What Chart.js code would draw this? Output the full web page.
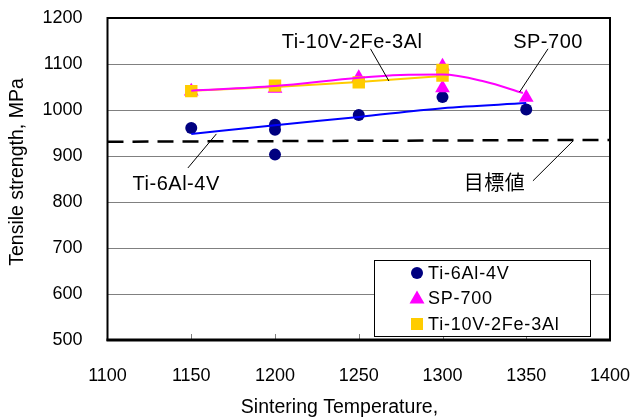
<!DOCTYPE html>
<html>
<head>
<meta charset="utf-8">
<script src="https://cdn.jsdelivr.net/npm/chart.js@4.4.1/dist/chart.umd.min.js"></script>
<style>
  body { margin: 0; background: #fff; }
  #wrap { width: 633px; height: 420px; }
</style>
</head>
<body>
<div id="wrap"><canvas id="tensileChart"></canvas></div>
<script>
// measured tensile strength (MPa) vs sintering temperature (°C)
const ti64Temp = [1150, 1200, 1200, 1200, 1250, 1300, 1350];
const ti64Strength = [961, 968, 957, 903, 989, 1028, 1001];

const sp700Temp = [1150, 1200, 1250, 1300, 1300, 1350];
const sp700Strength = [1041, 1047, 1070, 1095, 1048, 1027];

const ti1023Temp = [1150, 1200, 1250, 1300, 1300];
const ti1023Strength = [1041, 1053, 1060, 1087, 1075];

// trend curves
const ti64FitTemp = [1150, 1200, 1250, 1300, 1350];
const ti64Fit = [948, 967, 985, 1004, 1015];

const sp700FitTemp = [1150, 1200, 1250, 1275, 1300, 1325, 1348];
const sp700Fit = [1042, 1052, 1070, 1076, 1077, 1062, 1037];

const ti1023FitTemp = [1150, 1200, 1250, 1300];
const ti1023Fit = [1042, 1050, 1061, 1074];

// target line (目標値)
const targetTemp = [1100, 1400];
const targetStrength = [931, 935];

const xTicks = [1100, 1150, 1200, 1250, 1300, 1350, 1400];
const yTicks = [500, 600, 700, 800, 900, 1000, 1100, 1200];

const xTitle = 'Sintering Temperature,';
const yTitle = 'Tensile strength, MPa';

const FONT = "'Liberation Sans', Arial, 'Noto Sans CJK JP', sans-serif";
Chart.defaults.font.family = FONT;
Chart.defaults.color = '#000';

function pts(xs, ys) {
    return xs.map((x, i) => ({ x: x, y: ys[i] }));
}

// callouts, positions in data units
const notes = [
    { text: 'Ti-10V-2Fe-3Al', at: [1246, 1147], from: [1257, 1133], to: [1268, 1063] },
    { text: 'SP-700', at: [1363, 1147], from: [1363, 1133], to: [1346, 1039] },
    { text: 'Ti-6Al-4V', at: [1141, 837], from: [1148, 874], to: [1165, 948] },
    { text: '目標値', at: [1331, 837], from: [1354, 846], to: [1378, 933] },
];

const legendItems = [
    { label: 'Ti-6Al-4V', shape: 'circle', color: '#000080' },
    { label: 'SP-700', shape: 'triangle', color: '#FF00FF' },
    { label: 'Ti-10V-2Fe-3Al', shape: 'rect', color: '#FFCC00' },
];

function marker(ctx, shape, x, y, color) {
    ctx.fillStyle = color;
    ctx.beginPath();
    if (shape === 'circle') {
        ctx.arc(x, y, 6, 0, Math.PI * 2);
    } else if (shape === 'triangle') {
        ctx.moveTo(x, y - 8);
        ctx.lineTo(x + 7.5, y + 5);
        ctx.lineTo(x - 7.5, y + 5);
        ctx.closePath();
    } else {
        ctx.rect(x - 6, y - 6, 12, 12);
    }
    ctx.fill();
}

const framePlugin = {
    id: 'frame',
    afterDatasetsDraw(chart) {
        const { ctx, chartArea: a, scales } = chart;
        ctx.save();
        // small inner ticks on the temperature axis
        ctx.strokeStyle = '#808080';
        ctx.lineWidth = 1;
        xTicks.slice(1, -1).forEach(t => {
            const px = Math.round(scales.x.getPixelForValue(t)) + 0.5;
            ctx.beginPath();
            ctx.moveTo(px, a.bottom);
            ctx.lineTo(px, a.bottom - 6);
            ctx.stroke();
        });
        ctx.strokeStyle = '#000';
        ctx.lineWidth = 2;
        ctx.strokeRect(a.left, a.top, a.right - a.left, a.bottom - a.top);
        ctx.lineWidth = 3;
        ctx.beginPath();
        ctx.moveTo(a.left - 1, a.bottom);
        ctx.lineTo(a.right + 1, a.bottom);
        ctx.stroke();
        ctx.restore();
    },
    afterDraw(chart) {
        const { ctx, chartArea: a, scales } = chart;
        const px = v => scales.x.getPixelForValue(v);
        const py = v => scales.y.getPixelForValue(v);
        ctx.save();
        ctx.fillStyle = '#000';
        ctx.strokeStyle = '#000';
        ctx.textBaseline = 'middle';
        ctx.textAlign = 'center';

        // axis titles
        ctx.font = '19.5px ' + FONT;
        ctx.fillText(xTitle, a.left + 232, a.bottom + 68);
        ctx.save();
        ctx.translate(a.left - 90, a.top + 154);
        ctx.rotate(-Math.PI / 2);
        ctx.fillText(yTitle, 0, 0);
        ctx.restore();

        // callout labels and leader lines
        ctx.font = '20px ' + FONT;
        ctx.letterSpacing = '0.5px';
        ctx.lineWidth = 1;
        notes.forEach(n => {
            ctx.fillText(n.text, px(n.at[0]), py(n.at[1]));
            ctx.beginPath();
            ctx.moveTo(px(n.from[0]), py(n.from[1]));
            ctx.lineTo(px(n.to[0]), py(n.to[1]));
            ctx.stroke();
        });

        // legend box
        const bx = a.right - 236, by = a.bottom - 80, bw = 216, bh = 76;
        ctx.fillStyle = '#fff';
        ctx.fillRect(bx, by, bw, bh);
        ctx.strokeRect(bx + 0.5, by + 0.5, bw, bh);
        ctx.font = '18px ' + FONT;
        ctx.letterSpacing = '0.8px';
        ctx.textAlign = 'left';
        legendItems.forEach((item, i) => {
            const y = by + 13 + i * 25.5;
            marker(ctx, item.shape, bx + 43, y, item.color);
            ctx.fillStyle = '#000';
            ctx.fillText(item.label, bx + 54, y + 1);
        });
        ctx.restore();
    }
};

const lineStyle = { showLine: true, pointRadius: 0, borderWidth: 2, cubicInterpolationMode: 'monotone' };
const plain = v => String(v);

new Chart(document.getElementById('tensileChart'), {
    type: 'scatter',
    data: {
        datasets: [
            { ...lineStyle, label: 'SP-700 trend', data: pts(sp700FitTemp, sp700Fit), borderColor: '#FF00FF', order: 1 },
            { ...lineStyle, label: 'Ti-10V-2Fe-3Al trend', data: pts(ti1023FitTemp, ti1023Fit), borderColor: '#FFCC00', order: 2 },
            { ...lineStyle, label: 'Ti-6Al-4V trend', data: pts(ti64FitTemp, ti64Fit), borderColor: '#0000FF', order: 3 },
            {
                label: '目標値', data: pts(targetTemp, targetStrength), showLine: true, pointRadius: 0,
                borderColor: '#000', borderWidth: 2.5, borderDash: [16, 9], order: 4
            },
            {
                label: 'Ti-10V-2Fe-3Al', data: pts(ti1023Temp, ti1023Strength), pointStyle: 'rect',
                pointRadius: 8.8, backgroundColor: '#FFCC00', borderWidth: 0, order: 5
            },
            {
                label: 'SP-700', data: pts(sp700Temp, sp700Strength), pointStyle: 'triangle',
                pointRadius: 8.5, backgroundColor: '#FF00FF', borderWidth: 0, order: 6
            },
            {
                label: 'Ti-6Al-4V', data: pts(ti64Temp, ti64Strength), pointStyle: 'circle',
                pointRadius: 6, backgroundColor: '#000080', borderWidth: 0, order: 7
            },
        ]
    },
    options: {
        responsive: true,
        maintainAspectRatio: false,
        animation: false,
        layout: { padding: { top: 18, right: 23, left: 0, bottom: 0 } },
        plugins: {
            legend: false,
            tooltip: { enabled: false }
        },
        scales: {
            x: {
                type: 'linear',
                min: 1100,
                max: 1400,
                afterBuildTicks: s => { s.ticks = xTicks.map(v => ({ value: v })); },
                afterFit: s => { s.height = 80; s.paddingLeft = 0; s.paddingRight = 0; },
                grid: { display: false, drawTicks: false },
                border: { display: false },
                ticks: { font: { size: 18 }, padding: 25, maxRotation: 0, callback: plain }
            },
            y: {
                min: 500,
                max: 1200,
                afterBuildTicks: s => { s.ticks = yTicks.map(v => ({ value: v })); },
                afterFit: s => { s.width = 107.5; s.paddingTop = 0; s.paddingBottom = 0; },
                grid: { color: '#808080', lineWidth: 1, drawTicks: false },
                border: { display: false },
                ticks: { font: { size: 18 }, padding: 25, callback: plain }
            }
        }
    },
    plugins: [framePlugin]
});
</script>
</body>
</html>
